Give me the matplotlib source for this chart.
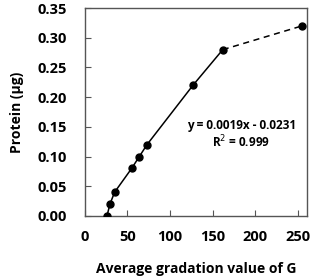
import numpy as np
import matplotlib
matplotlib.use("Agg")
import matplotlib.pyplot as plt

plt.rcParams['font.family'] = ['Open Sans', 'DejaVu Sans']

# data
gradation = [26, 29.5, 35, 55, 64, 73, 127, 162]
protein = [0.0, 0.02, 0.04, 0.08, 0.10, 0.12, 0.22, 0.28]
# last point joined with a dashed line
dash_x = [162, 255]
dash_y = [0.28, 0.32]
xticks = [0, 50, 100, 150, 200, 250]
yticks = [0.00, 0.05, 0.10, 0.15, 0.20, 0.25, 0.30, 0.35]

fig = plt.figure(figsize=(3.12, 2.8), dpi=100)
ax = fig.add_axes([0.272, 0.229, 0.712, 0.742])

ax.plot(gradation, protein, color='black', lw=1.1, marker='o', ms=5, zorder=3)
ax.plot(dash_x, dash_y, color='black', lw=1.1, ls=(0, (4, 3)), zorder=2)
ax.plot(dash_x[1:], dash_y[1:], 'o', color='black', ms=5, zorder=3)

ax.text(0.705, 0.435, "y = 0.0019x - 0.0231", transform=ax.transAxes,
        ha='center', va='center', fontsize=8.5, fontweight='bold')
ax.text(0.705, 0.355, "R$^2$ = 0.999", transform=ax.transAxes,
        ha='center', va='center', fontsize=8.5, fontweight='bold')

ax.set_xlim(0, 261)
ax.set_ylim(0, 0.35)
ax.set_xticks(xticks)
ax.set_yticks(yticks)
ax.set_xticklabels([str(t) for t in xticks], fontweight='bold', fontsize=10.5)
ax.set_yticklabels(["%.2f" % t for t in yticks], fontweight='bold', fontsize=10.5)
ax.tick_params(direction='in', length=4, color='#555555', pad=10)
ax.tick_params(axis='y', pad=13)
for s in ax.spines.values():
    s.set_color('#555555')
    s.set_linewidth(1)

ax.set_xlabel("Average gradation value of G", fontweight='bold', fontsize=10, labelpad=13)
ax.set_ylabel("Protein (μg)", fontweight='bold', fontsize=10, labelpad=10)

fig.savefig("out.png", dpi=100)
